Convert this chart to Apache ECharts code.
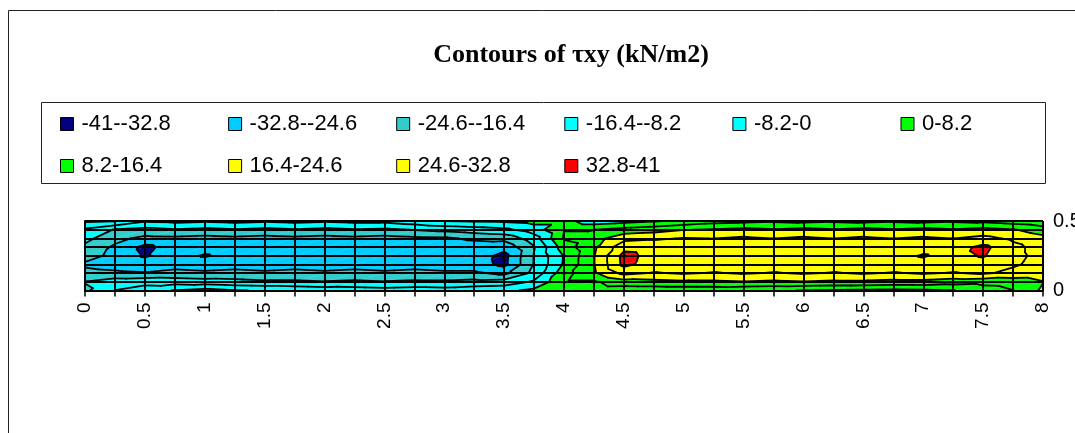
<!DOCTYPE html>
<html>
<head>
<meta charset="utf-8">
<script src="https://cdn.jsdelivr.net/npm/echarts@6/dist/echarts.min.js"></script>
<style>
  html, body { margin: 0; padding: 0; background: #ffffff; }
  #chart { width: 1075px; height: 433px; }
</style>
</head>
<body>
<div id="chart"></div>
<script>
// Grid node positions along the panel (m)
const xPositions = [0, 0.25, 0.5, 0.75, 1, 1.25, 1.5, 1.75, 2, 2.25, 2.5, 2.75, 3, 3.25, 3.5, 3.75, 4,
                    4.25, 4.5, 4.75, 5, 5.25, 5.5, 5.75, 6, 6.25, 6.5, 6.75, 7, 7.25, 7.5, 7.75, 8];
const yPositions = [0, 0.0625, 0.125, 0.1875, 0.25, 0.3125, 0.375, 0.4375, 0.5];

// Shear stress τxy (kN/m2) at the nodes of each horizontal row, bottom (y = 0) to top (y = 0.5)
const tauY0000 = [-18, -8, -4, 0.5, 3, 0.4, -0.5, -2, -3, -4, -5, -4, -5, -3, -2, 2, 6,
                  4, 3, 3, 3, 3, 2, 1, -0.3, -1, -1.5, -2, -1.5, -0.3, 4, 8, 18];
const tauY0625 = [-16, -12, -11, -12, -13, -14, -15, -15, -16, -15, -16, -15, -15, -14, -13, -7, 7,
                  7, 13, 14, 15, 15, 16, 15, 16, 15, 15, 14, 14, 12, 11, 12, 16];
const tauY1250 = [-22, -23, -24, -22, -23, -22, -23, -22, -23, -22, -23, -22, -23, -23, -27, -14, 5,
                  15, 27, 24, 25.5, 24, 25.5, 24, 25.5, 24, 25.5, 24, 25.5, 24, 26, 22, 21];
const tauY1875 = [-26, -28, -30, -28, -29, -28, -29, -28, -29, -28, -29, -28, -29, -29, -35, -16, 1,
                  16, 35, 29, 30, 29, 30, 29, 30, 29, 30, 29, 30, 29, 30, 26, 21];
const tauY2500 = [-21, -27, -33.5, -30, -33.5, -30, -31, -30, -31, -30, -31, -30.5, -31, -28, -35.5, -16, 0.5,
                  16, 35.5, 30, 31, 30, 31, 30, 31, 30, 31, 30, 33.5, 30, 33.5, 27, 22];
const tauY3125 = [-18, -26, -35, -29, -30, -29, -30, -29, -30, -29, -30, -29.5, -30, -29, -30, -17, 4,
                  15, 30, 29, 30, 29, 30, 29, 30, 29, 30, 29, 30, 29, 35, 27, 21];
const tauY3750 = [-14, -22, -27, -26.5, -27.5, -26.5, -27.5, -26.5, -27.5, -26.5, -27.5, -26.5, -26, -23, -22, -12, 9,
                  13, 22, 23.5, 25, 24.5, 26, 24.5, 26, 24.5, 26, 24.5, 26, 24.5, 27, 23, 19];
const tauY4375 = [-10, -17, -19, -17, -18.5, -17, -18.5, -17, -18.5, -17, -18, -16, -14, -12, -10, -4, 8,
                  8, 11, 13, 16, 17, 18.5, 17, 18.5, 17, 18.5, 17, 18.5, 17, 19, 17, 12];
const tauY5000 = [1.5, 0.5, -7, -6, -7, -6, -7, -6, -7, -6, -6, -3, 0.3, 1, 1.5, 3, 3,
                  -5, -3, -1, 2, 5, 6, 7, 6, 7, 6, 7, 6, 7, 6, 4, 2];

// Contour band limits, legend labels and fills
const bandLimits = [-41, -32.8, -24.6, -16.4, -8.2, 0, 8.2, 16.4, 24.6, 32.8, 41];
const bandLabels = ['-41--32.8', '-32.8--24.6', '-24.6--16.4', '-16.4--8.2', '-8.2-0',
                    '0-8.2', '8.2-16.4', '16.4-24.6', '24.6-32.8', '32.8-41'];
const bandColors = ['#000080', '#00ccff', '#33cccc', '#00ffff', '#00ffff',
                    '#00ff00', '#00ff00', '#ffff00', '#ffff00', '#ff0000'];

// Axis labels that are printed
const xTickLabels = ['0', '0.5', '1', '1.5', '2', '2.5', '3', '3.5', '4', '4.5', '5', '5.5', '6', '6.5', '7', '7.5', '8'];
const yTickLabels = ['0', '0.5'];

const tauRows = [tauY0000, tauY0625, tauY1250, tauY1875, tauY2500, tauY3125, tauY3750, tauY4375, tauY5000];

// Keep the part of a polygon [x, y, v] on one side of a level
function clipPolygon(pts, level, keepAbove) {
  if (!isFinite(level)) return pts;
  const out = [];
  for (let k = 0; k < pts.length; k++) {
    const a = pts[k], b = pts[(k + 1) % pts.length];
    const ina = keepAbove ? a[2] >= level : a[2] <= level;
    const inb = keepAbove ? b[2] >= level : b[2] <= level;
    if (ina) out.push(a);
    if (ina !== inb) {
      const t = (level - a[2]) / (b[2] - a[2]);
      out.push([a[0] + t * (b[0] - a[0]), a[1] + t * (b[1] - a[1]), level]);
    }
  }
  return out;
}

// Split every grid cell into two triangles
const triangles = [];
for (let j = 0; j < yPositions.length - 1; j++) {
  for (let i = 0; i < xPositions.length - 1; i++) {
    const p00 = [xPositions[i], yPositions[j], tauRows[j][i]];
    const p10 = [xPositions[i + 1], yPositions[j], tauRows[j][i + 1]];
    const p11 = [xPositions[i + 1], yPositions[j + 1], tauRows[j + 1][i + 1]];
    const p01 = [xPositions[i], yPositions[j + 1], tauRows[j + 1][i]];
    triangles.push([p00, p10, p11], [p00, p11, p01]);
  }
}

// Filled band pieces
const bandPolys = bandLabels.map(() => []);
triangles.forEach(tri => {
  for (let b = 0; b < bandLabels.length; b++) {
    const lo = b === 0 ? -Infinity : bandLimits[b];
    const hi = b === bandLabels.length - 1 ? Infinity : bandLimits[b + 1];
    const poly = clipPolygon(clipPolygon(tri, lo, true), hi, false);
    if (poly.length >= 3) bandPolys[b].push(poly.map(p => [p[0], p[1]]));
  }
});

// Contour line segments at each inner band limit
const contourSegs = [];
const levels = bandLimits.slice(1, -1);
triangles.forEach(tri => {
  levels.forEach(L => {
    const pts = [];
    for (let k = 0; k < 3; k++) {
      const a = tri[k], b = tri[(k + 1) % 3];
      if ((a[2] >= L) !== (b[2] >= L)) {
        const t = (L - a[2]) / (b[2] - a[2]);
        pts.push([a[0] + t * (b[0] - a[0]), a[1] + t * (b[1] - a[1])]);
      }
    }
    if (pts.length === 2) contourSegs.push([pts[0][0], pts[0][1], pts[1][0], pts[1][1]]);
  });
});

const bandSeries = bandLabels.map((label, b) => ({
  type: 'custom',
  name: label,
  coordinateSystem: 'cartesian2d',
  silent: true,
  animation: false,
  clip: true,
  z: 2,
  itemStyle: { color: bandColors[b] },
  encode: { x: 0, y: 1 },
  data: bandPolys[b].map((poly, k) => [poly[0][0], poly[0][1], k]),
  renderItem: (params, api) => {
    const poly = bandPolys[b][api.value(2)];
    return {
      type: 'polygon',
      shape: { points: poly.map(p => api.coord(p)) },
      style: { fill: bandColors[b], stroke: bandColors[b], lineWidth: 0.3 }
    };
  }
}));

const contourSeries = {
  type: 'custom',
  name: 'contours',
  coordinateSystem: 'cartesian2d',
  silent: true,
  animation: false,
  clip: true,
  z: 3,
  encode: { x: [0, 2], y: [1, 3] },
  data: contourSegs,
  renderItem: (params, api) => {
    const a = api.coord([api.value(0), api.value(1)]);
    const c = api.coord([api.value(2), api.value(3)]);
    return {
      type: 'line',
      shape: { x1: a[0], y1: a[1], x2: c[0], y2: c[1] },
      style: { stroke: '#000000', lineWidth: 1.8, lineCap: 'round' }
    };
  }
};

const chart = echarts.init(document.getElementById('chart'), null, { renderer: 'canvas' });
chart.setOption({
  animation: false,
  backgroundColor: '#ffffff',
  title: {
    text: 'Contours of τxy (kN/m2)',
    left: 571,
    top: 55,
    padding: 0,
    textAlign: 'center',
    textVerticalAlign: 'middle',
    textStyle: { fontFamily: 'Liberation Serif', fontWeight: 'bold', fontSize: 26, color: '#000000' }
  },
  graphic: [
    { type: 'rect', silent: true, z: 0,
      shape: { x: 8.5, y: 10.5, width: 1200, height: 600 },
      style: { fill: 'none', stroke: '#222222', lineWidth: 1 } },
    { type: 'rect', silent: true, z: 0,
      shape: { x: 41.5, y: 102.5, width: 1004, height: 81 },
      style: { fill: 'none', stroke: '#222222', lineWidth: 1 } }
  ],
  legend: {
    data: bandLabels,
    left: 60,
    top: 113,
    width: 1000,
    padding: 0,
    itemGap: 20,
    itemWidth: 13,
    itemHeight: 13,
    icon: 'rect',
    selectedMode: false,
    itemStyle: { borderColor: '#000000', borderWidth: 1 },
    textStyle: {
      fontFamily: 'Liberation Sans', fontSize: 22, color: '#000000',
      width: 126.6, lineHeight: 18, padding: [0, 0, 0, 3]
    }
  },
  grid: { left: 85, right: 32, top: 221, bottom: 142.5, containLabel: false, outerBoundsMode: 'none' },
  xAxis: {
    type: 'value',
    min: 0, max: 8, interval: 0.25,
    z: 4,
    axisLine: { show: true, lineStyle: { color: '#000000', width: 2 } },
    axisTick: { show: true, length: 6, lineStyle: { color: '#000000', width: 1.5 } },
    splitLine: { show: true, lineStyle: { color: '#000000', width: 2 } },
    axisLabel: {
      rotate: 90, margin: 12, fontFamily: 'Liberation Sans', fontSize: 19, color: '#000000',
      formatter: v => { const s = String(v); return xTickLabels.indexOf(s) >= 0 ? s : ''; }
    }
  },
  yAxis: {
    type: 'value',
    position: 'right',
    min: 0, max: 0.5, interval: 0.0625,
    z: 4,
    axisLine: { show: true, lineStyle: { color: '#000000', width: 2 } },
    axisTick: { show: true, length: 6, lineStyle: { color: '#000000', width: 1.5 } },
    splitLine: { show: true, lineStyle: { color: '#000000', width: 2 } },
    axisLabel: {
      margin: 10, fontFamily: 'Liberation Sans', fontSize: 20, color: '#000000',
      formatter: v => { const s = String(v); return yTickLabels.indexOf(s) >= 0 ? s : ''; }
    }
  },
  series: bandSeries.concat([contourSeries])
});
</script>
</body>
</html>
